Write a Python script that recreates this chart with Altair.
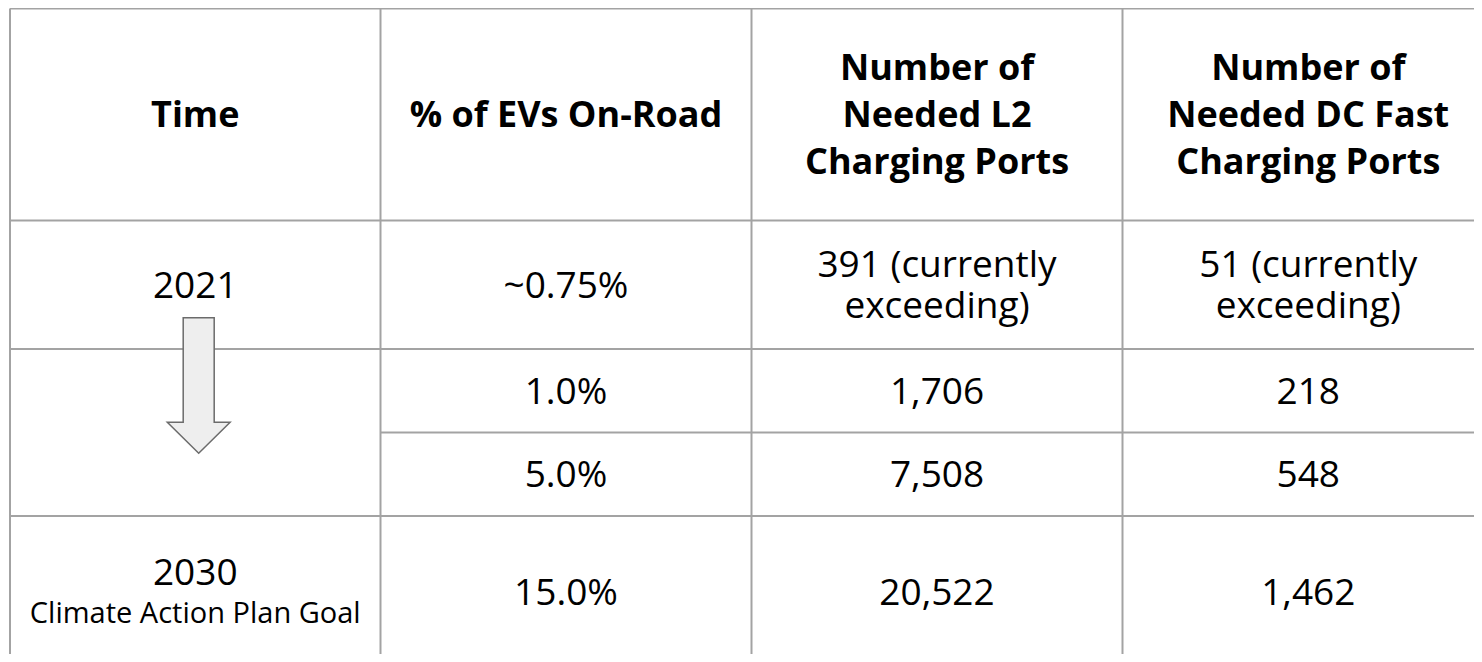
import altair as alt
import pandas as pd

# ---------------- data (table content) ----------------
headers = [
    "Time",
    "% of EVs On-Road",
    "Number of\nNeeded L2\nCharging Ports",
    "Number of\nNeeded DC Fast\nCharging Ports",
]
time_main = ["2021", "", "", "2030"]
time_note = ["", "", "", "Climate Action Plan Goal"]
pct_on_road = ["~0.75%", "1.0%", "5.0%", "15.0%"]
l2_ports = ["391 (currently\nexceeding)", "1,706", "7,508", "20,522"]
dcfc_ports = ["51 (currently\nexceeding)", "218", "548", "1,462"]

# ---------------- layout (page pixels) ----------------
PAGE_W, PAGE_H = 1482, 662
M = 8
W, H = PAGE_W - 2 * M, PAGE_H - 2 * M
col_edges = [10, 380.5, 751.5, 1122.5, 1494]
row_edges = [8.5, 220.5, 349, 432.5, 516, 668]

GRID = "#a3a3a3"
FONT = "Open Sans"
HEAD_FS, BODY_FS, NOTE_FS = 36, 37, 29
HEAD_LH, BODY_LH = 47, 41
CAP = 0.357  # half cap height / font size

# arrow geometry (in merged cell)
ARROW_X, ARROW_TOP, ARROW_TIP = 198.7, 317.7, 453.3

# ---------------- build grid segments ----------------
segs = []
for i, yv in enumerate(row_edges[:-1]):
    x_start = col_edges[1] if i == 3 else col_edges[0]
    segs.append(dict(x=x_start, x2=PAGE_W, y=yv, y2=yv))
for xv in col_edges[:-1]:
    segs.append(dict(x=xv, x2=xv, y=row_edges[0], y2=row_edges[-1]))
seg_df = pd.DataFrame(segs)

# ---------------- build text lines ----------------
def cell_lines(lines, c, r, lh):
    cx = (col_edges[c] + col_edges[c + 1]) / 2
    cy = (row_edges[r] + row_edges[r + 1]) / 2
    n = len(lines)
    out = []
    for i, (txt, fs) in enumerate(lines):
        out.append(dict(x=cx, y=cy + (i - (n - 1) / 2) * lh + CAP * fs, text=txt, fs=fs))
    return out

head_rows = []
for c, h in enumerate(headers):
    head_rows += cell_lines([(t, HEAD_FS) for t in h.split("\n")], c, 0, HEAD_LH)
head_df = pd.DataFrame(head_rows)

body_rows = []
for r in range(4):
    lines0 = []
    if time_main[r]:
        lines0.append((time_main[r], BODY_FS))
    if time_note[r]:
        lines0.append((time_note[r], NOTE_FS))
    if lines0:
        body_rows += cell_lines(lines0, 0, r + 1, BODY_LH)
    for c, col in ((1, pct_on_road), (2, l2_ports), (3, dcfc_ports)):
        body_rows += cell_lines([(t, BODY_FS) for t in col[r].split("\n")], c, r + 1, BODY_LH)
body_df = pd.DataFrame(body_rows)

arrow_df = pd.DataFrame([dict(x=ARROW_X, y=(ARROW_TOP + ARROW_TIP) / 2)])
arrow_h = ARROW_TIP - ARROW_TOP
half = arrow_h / 2
sw, hw, hy = 15.5 / half, 31.4 / half, (422.3 - (ARROW_TOP + ARROW_TIP) / 2) / half
arrow_path = (
    f"M {-sw:.4f} -1 L {sw:.4f} -1 L {sw:.4f} {hy:.4f} L {hw:.4f} {hy:.4f} "
    f"L 0 1 L {-hw:.4f} {hy:.4f} L {-sw:.4f} {hy:.4f} Z"
)

# ---------------- scales ----------------
xs = alt.Scale(domain=[M, M + W], nice=False, zero=False)
ys = alt.Scale(domain=[M, M + H], nice=False, zero=False, reverse=True)

rules = alt.Chart(seg_df).mark_rule(color=GRID, strokeWidth=2).encode(
    x=alt.X("x:Q", scale=xs, axis=None),
    x2="x2:Q",
    y=alt.Y("y:Q", scale=ys, axis=None),
    y2="y2:Q",
)

head_text = alt.Chart(head_df).mark_text(
    font=FONT, fontWeight="bold", align="center", baseline="alphabetic", color="#000000"
).encode(
    x=alt.X("x:Q", scale=xs, axis=None),
    y=alt.Y("y:Q", scale=ys, axis=None),
    text="text:N",
    size=alt.Size("fs:Q", scale=None, legend=None),
)

body_text = alt.Chart(body_df).mark_text(
    font=FONT, fontWeight="normal", align="center", baseline="alphabetic", color="#000000"
).encode(
    x=alt.X("x:Q", scale=xs, axis=None),
    y=alt.Y("y:Q", scale=ys, axis=None),
    text="text:N",
    size=alt.Size("fs:Q", scale=None, legend=None),
)

arrow = alt.Chart(arrow_df).mark_point(
    shape=arrow_path, size=arrow_h ** 2, filled=True, fill="#eeeeee",
    stroke="#6b6b6b", strokeWidth=1.5, opacity=1,
).encode(
    x=alt.X("x:Q", scale=xs, axis=None),
    y=alt.Y("y:Q", scale=ys, axis=None),
)

chart = alt.layer(rules, arrow, head_text, body_text).properties(
    width=W, height=H, padding=0, background="white",
    autosize=alt.AutoSizeParams(type="none"),
).configure_view(stroke=None)

chart.save("out.html", embed_options={"renderer": "svg", "actions": False})
